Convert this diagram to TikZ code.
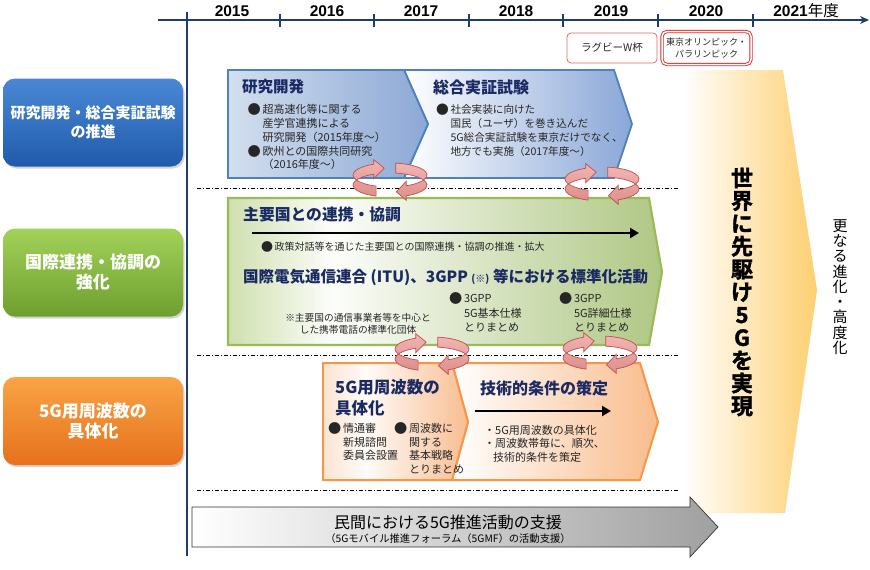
\documentclass[tikz,border=0pt]{standalone}
\usepackage{fontspec}
\setmainfont{Noto Sans CJK JP}
\newfontfamily\arialf{Liberation Sans}
\newfontfamily\heavyjp{Noto Sans CJK JP Bold}[FakeBold=1.6]
\usetikzlibrary{shadows,arrows.meta,calc}
\definecolor{axiscol}{HTML}{1F3C6E}
\definecolor{navy}{HTML}{1B2A63}
\definecolor{txtc}{HTML}{262626}
\definecolor{bluebd}{HTML}{4F81BD}
\definecolor{bA1}{HTML}{D3DFEF}
\definecolor{bA2}{HTML}{8CA8D5}
\definecolor{bB2}{HTML}{8AA7D8}
\definecolor{greenbd}{HTML}{9BBB59}
\definecolor{gL}{HTML}{CFE0AE}
\definecolor{gR}{HTML}{AFC784}
\definecolor{orangebd}{HTML}{F79646}
\definecolor{oL}{HTML}{FCE4D2}
\definecolor{oR}{HTML}{F8BD90}
\definecolor{oR2}{HTML}{F9BC8C}
\definecolor{grR}{HTML}{A0A0A0}
\definecolor{yR}{HTML}{FDCF70}
\definecolor{ringT}{HTML}{F1B5B3}
\definecolor{ringB}{HTML}{DC8E8B}
\definecolor{ringbd}{HTML}{C0504D}
\definecolor{rugbd}{HTML}{E06666}
\definecolor{olybd}{HTML}{E02B2B}
\definecolor{lbT}{HTML}{4A88D6}
\definecolor{lbB}{HTML}{1F5BAA}
\definecolor{lgT}{HTML}{A3D25A}
\definecolor{lgB}{HTML}{6E9F2E}
\definecolor{loT}{HTML}{F9A446}
\definecolor{loB}{HTML}{E6711C}
\pgfdeclarehorizontalshading{blueA}{100bp}{color(0bp)=(bA1); color(25bp)=(bA1); color(75bp)=(bA2); color(100bp)=(bA2)}
\pgfdeclarehorizontalshading{blueB}{100bp}{color(0bp)=(white); color(25bp)=(white); color(75bp)=(bB2); color(100bp)=(bB2)}
\pgfdeclarehorizontalshading{greenS}{100bp}{color(0bp)=(gL); color(25bp)=(gL); color(37bp)=(white!94!gL); color(75bp)=(gR); color(100bp)=(gR)}
\pgfdeclarehorizontalshading{orangeA}{100bp}{color(0bp)=(oL); color(25bp)=(oL); color(40bp)=(white!85!oL); color(75bp)=(oR); color(100bp)=(oR)}
\pgfdeclarehorizontalshading{orangeB}{100bp}{color(0bp)=(white); color(25bp)=(white); color(75bp)=(oR2); color(100bp)=(oR2)}
\pgfdeclarehorizontalshading{grayS}{100bp}{color(0bp)=(white); color(25bp)=(white); color(75bp)=(grR); color(100bp)=(grR)}
\pgfdeclarehorizontalshading{yellowS}{100bp}{color(0bp)=(white); color(25bp)=(white); color(75bp)=(yR); color(100bp)=(yR)}
\newcommand\mybul{\makebox[1.35em][l]{\raisebox{-0.08em}{\scalebox{1.2}{●}}}}
\newcommand\myind{\hspace*{1.35em}}
\newcommand\mystrut{\rule{0pt}{0.88em}}
% ribbon ring arrow: #1,#2 centre
\newcommand\ringarr[2]{%
 \begin{scope}[shift={(#1,#2)}]
  \shadedraw[ringst] ($(0,5)+(248:37 and 12)$) arc[start angle=248, end angle=116, x radius=37, y radius=12]
     -- ($(0,9.5)+(116:37 and 12)$) -- (99:37 and 12) -- ($(0,-9.5)+(116:37 and 12)$)
     -- ($(0,-5)+(116:37 and 12)$) arc[start angle=116, end angle=248, x radius=37, y radius=12] -- cycle;
  \shadedraw[ringst] ($(0,5)+(81:37 and 12)$) arc[start angle=81, end angle=-64, x radius=37, y radius=12]
     -- ($(0,9.5)+(-64:37 and 12)$) -- (-80:37 and 12) -- ($(0,-9.5)+(-64:37 and 12)$)
     -- ($(0,-5)+(-64:37 and 12)$) arc[start angle=-64, end angle=81, x radius=37, y radius=12] -- cycle;
 \end{scope}}
\begin{document}
\begin{tikzpicture}[x=1pt,y=1pt,
  ringst/.style={top color=ringT, bottom color=ringB, draw=ringbd, line width=0.7pt},
  yearlbl/.style={font=\arialf\bfseries\fontsize{15.5}{15.5}\selectfont, text=black, inner sep=0pt},
  lbox/.style={rounded corners=12pt, minimum width=180pt, minimum height=88pt, text=white, align=center,
     drop shadow={shadow xshift=1.5pt, shadow yshift=-2pt, opacity=0.35}},
  ttl/.style={font=\bfseries\fontsize{16}{21}\selectfont, text=navy, inner sep=0pt, anchor=west},
  bodytxt/.style={anchor=north west, inner sep=0pt, align=left, text=txtc},
  sep/.style={black, line width=0.7pt, dash pattern=on 4pt off 2pt on 1pt off 2pt},
  blk/.style={black, line width=2.6pt, -{Triangle[length=9pt,width=10pt]}}]
\useasboundingbox (0,0) rectangle (870,-570);
% yellow chevron
\shade[shading=yellowS] (683,-70) -- (783,-70) -- (817,-290) -- (785,-513) -- (683,-513) -- cycle;
% timeline
\coordinate (axL) at (158,-20);
\coordinate (axR) at (869,-20);
\coordinate (vT) at (187,-12);
\coordinate (vB) at (187,-556);
\draw[axiscol, line width=1.8pt, -{Stealth[length=9pt,width=8pt]}] (axL) -- (axR);
\draw[axiscol, line width=1.3pt] (vT) -- (vB);
\foreach \x in {280,374,469,563,658,753} \draw[axiscol, line width=1.3pt] (\x,-14) -- (\x,-27);
\node[yearlbl] (y15) at (232,-11) {2015};
\node[yearlbl] (y16) at (327,-11) {2016};
\node[yearlbl] (y17) at (421,-11) {2017};
\node[yearlbl] (y18) at (516,-11) {2018};
\node[yearlbl] (y19) at (611,-11) {2019};
\node[yearlbl] (y20) at (706,-11) {2020};
\node[yearlbl] (y21) at (806,-11) {2021{\normalfont\rmfamily\fontsize{15.5}{15.5}\selectfont 年度}};
% event boxes
\node[draw=rugbd, line width=0.8pt, rounded corners=4pt, fill=white, minimum width=90pt, minimum height=30pt,
  font=\fontsize{10.5}{12}\selectfont, text=txtc, inner sep=0pt] (rug) at (612,-48) {ラグビーW杯};
\node[draw=olybd, line width=0.9pt, double=white, double distance=1.5pt, rounded corners=5pt, fill=white,
  minimum width=89pt, minimum height=33pt, align=center, font=\fontsize{9}{12.5}\selectfont, text=txtc, inner sep=0pt]
  (oly) at (706.5,-48) {東京オリンピック・\\パラリンピック};
% left category boxes
\node[lbox, top color=lbT, bottom color=lbB, font=\bfseries\fontsize{15}{19}\selectfont] (lb1) at (93,-122.5) {研究開発・総合実証試験\\の推進};
\node[lbox, top color=lgT, bottom color=lgB, font=\bfseries\fontsize{17}{20}\selectfont] (lb2) at (93,-272.5) {国際連携・協調の\\強化};
\node[lbox, top color=loT, bottom color=loB, font=\bfseries\fontsize{17}{20}\selectfont] (lb3) at (93,-421) {5G用周波数の\\具体化};
% separators
\coordinate (s1L) at (197,-188); \coordinate (s1R) at (679,-188);
\coordinate (s2L) at (197,-355); \coordinate (s2R) at (679,-355);
\coordinate (s3L) at (197,-490); \coordinate (s3R) at (679,-490);
\draw[sep] (s1L) -- (s1R);
\draw[sep] (s2L) -- (s2R);
\draw[sep] (s3L) -- (s3R);
% research chevrons
\shadedraw[shading=blueB, draw=bluebd, line width=1.8pt] (404,-70) -- (614,-70) -- (632,-124) -- (614,-178) -- (404,-178) -- (428,-124) -- cycle;
\shadedraw[shading=blueA, draw=bluebd, line width=1.8pt] (228,-70) -- (404,-70) -- (428,-124) -- (404,-178) -- (228,-178) -- cycle;
\node[ttl, font=\bfseries\fontsize{15.5}{20}\selectfont] (t1) at (242,-87) {研究開発};
\node[ttl] (t2) at (433,-87) {総合実証試験};
\node[bodytxt, font=\fontsize{11}{13.8}\selectfont] (b1) at (247.5,-103.5)
  {\mystrut\mybul 超高速化等に関する\\\myind 産学官連携による\\\myind 研究開発（2015年度～）\\\mybul 欧州との国際共同研究\\\myind（2016年度～）};
\node[bodytxt, font=\fontsize{10.6}{13.8}\selectfont] (b2) at (436,-103.7)
  {\mystrut\mybul 社会実装に向けた\\\myind 国民（ユーザ）を巻き込んだ\\\myind 5G総合実証試験を東京だけでなく、\\\myind 地方でも実施（2017年度～）};
% green chevron
\shadedraw[shading=greenS, draw=greenbd, line width=2.2pt] (228,-198) -- (649,-198) -- (662,-272) -- (649,-345) -- (228,-345) -- cycle;
\node[ttl, font=\bfseries\fontsize{15.8}{20}\selectfont] (t3) at (243,-214) {主要国との連携・協調};
\coordinate (ga1) at (252,-233);
\coordinate (ga2) at (639,-233);
\draw[blk] (ga1) -- (ga2);
\node[anchor=west, inner sep=0pt, font=\fontsize{10}{12}\selectfont, text=txtc] (b3) at (261,-247) {\mybul 政策対話等を通じた主要国との国際連携・協調の推進・拡大};
\node[ttl, font=\bfseries\fontsize{15.5}{20}\selectfont] (t4) at (243,-277) {国際電気通信連合 (ITU)、3GPP {\fontsize{10}{10}\selectfont (※)} 等における標準化活動};
\node[align=center, inner sep=0pt, font=\fontsize{9.7}{12}\selectfont, text=txtc] (b4) at (358,-324) {※主要国の通信事業者等を中心と\\した携帯電話の標準化団体};
\node[bodytxt, font=\fontsize{11}{14.5}\selectfont] (b5) at (449,-292.5) {\mystrut\mybul 3GPP\\\myind 5G基本仕様\\\myind とりまとめ};
\node[bodytxt, font=\fontsize{11}{14.5}\selectfont] (b6) at (559,-292.5) {\mystrut\mybul 3GPP\\\myind 5G詳細仕様\\\myind とりまとめ};
% orange chevrons
\shadedraw[shading=orangeB, draw=orangebd, line width=2pt] (452,-363) -- (640,-363) -- (658,-422) -- (640,-480) -- (452,-480) -- (468,-422) -- cycle;
\shadedraw[shading=orangeA, draw=orangebd, line width=2pt] (323,-363) -- (452,-363) -- (468,-422) -- (452,-480) -- (323,-480) -- cycle;
\node[bodytxt, font=\bfseries\fontsize{16.5}{21}\selectfont, text=navy] (t5) at (335,-378.75) {\mystrut 5G用周波数の\\具体化};
\node[bodytxt, font=\fontsize{11}{13.5}\selectfont] (b7) at (328,-422.5) {\mystrut\mybul 情通審\\\myind 新規諮問\\\myind 委員会設置};
\node[bodytxt, font=\fontsize{11}{13.5}\selectfont] (b8) at (394,-422.5) {\mystrut\mybul 周波数に\\\myind 関する\\\myind 基本戦略\\\myind とりまとめ};
\node[ttl] (t6) at (480,-388) {技術的条件の策定};
\coordinate (oa1) at (475,-411);
\coordinate (oa2) at (611,-411);
\draw[blk] (oa1) -- (oa2);
\node[bodytxt, font=\fontsize{11}{13.5}\selectfont] (b9) at (484,-424.5) {\mystrut・5G用周波数の具体化\\・周波数帯毎に、順次、\\\hspace*{0.8em}技術的条件を策定};
% bottom arrow
\shadedraw[shading=grayS, draw=black!80, line width=0.7pt] (192,-507) -- (690,-507) -- (690,-497) -- (718,-527) -- (690,-557) -- (690,-547) -- (192,-547) -- cycle;
\node[inner sep=0pt, font=\fontsize{16}{18}\selectfont, text=black] (m1) at (448,-522) {民間における5G推進活動の支援};
\node[inner sep=0pt, font=\fontsize{10.3}{12}\selectfont, text=black] (m2) at (448,-539) {（5Gモバイル推進フォーラム（5GMF）の活動支援）};
% vertical texts
\node[align=center, inner sep=0pt, font=\heavyjp\fontsize{22}{22.8}\selectfont, text=black] (v1) at (742,-292)
  {世\\界\\に\\先\\駆\\け\\5\\G\\を\\実\\現};
\node[align=center, inner sep=0pt, font=\fontsize{15}{15.3}\selectfont, text=black] (v2) at (840,-287)
  {更\\な\\る\\進\\化\\・\\高\\度\\化};
% ring arrows
\ringarr{390}{-180}
\ringarr{602}{-184}
\ringarr{432}{-354}
\ringarr{600}{-353}
\end{tikzpicture}
\end{document}
